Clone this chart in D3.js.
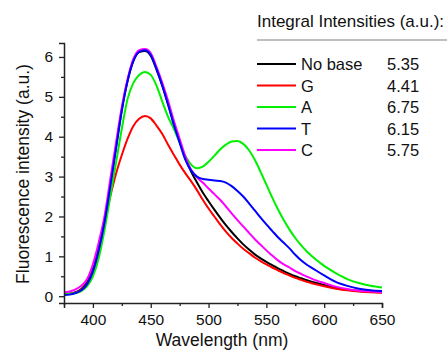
<!DOCTYPE html>
<html><head><meta charset="utf-8">
<script src="https://cdn.jsdelivr.net/npm/d3@7"></script>
<style>
body{margin:0;background:#fff;}
svg{display:block;font-family:"Liberation Sans",Arial,sans-serif;}
</style></head>
<body><div id="chart"></div>
<script>
const wavelengths = [375,380,385,390,395,400,405,410,415,420,425,430,435,440,445,450,455,460,465,470,475,480,485,490,495,500,505,510,515,520,525,530,535,540,545,550,555,560,565,570,575,580,585,590,600,610,620,630,640,650];
const noBase = [0.05,0.06,0.1,0.18,0.35,0.68,1.2,1.9,2.8,3.75,4.68,5.4,5.9,6.12,6.15,6.03,5.68,5.28,4.82,4.32,3.88,3.45,3.12,2.85,2.6,2.38,2.17,1.97,1.78,1.61,1.45,1.3,1.17,1.05,0.95,0.86,0.78,0.7,0.63,0.56,0.5,0.45,0.4,0.36,0.28,0.21,0.16,0.13,0.11,0.1];
const gSeries = [0.05,0.06,0.09,0.16,0.3,0.6,1.12,1.85,2.5,3.07,3.54,3.95,4.27,4.45,4.52,4.46,4.28,4.07,3.8,3.55,3.3,3.08,2.88,2.66,2.42,2.2,2.0,1.8,1.62,1.46,1.32,1.19,1.08,0.97,0.88,0.8,0.72,0.65,0.58,0.52,0.46,0.41,0.36,0.32,0.25,0.19,0.15,0.12,0.1,0.09];
const aSeries = [0.05,0.06,0.08,0.13,0.25,0.5,0.95,1.65,2.5,3.35,4.2,4.95,5.35,5.55,5.62,5.55,5.28,4.88,4.5,4.2,3.85,3.52,3.3,3.21,3.25,3.37,3.52,3.68,3.8,3.88,3.89,3.82,3.66,3.42,3.12,2.8,2.48,2.18,1.91,1.67,1.46,1.28,1.12,0.99,0.76,0.58,0.43,0.33,0.26,0.22];
const tSeries = [0.03,0.04,0.08,0.15,0.3,0.62,1.15,1.85,2.75,3.7,4.65,5.4,5.9,6.13,6.17,6.05,5.7,5.28,4.8,4.3,3.85,3.42,3.15,3.0,2.94,2.92,2.9,2.89,2.85,2.76,2.64,2.5,2.33,2.15,1.97,1.8,1.64,1.48,1.34,1.2,1.04,0.9,0.79,0.7,0.52,0.36,0.26,0.19,0.15,0.13];
const cSeries = [0.1,0.12,0.17,0.26,0.43,0.8,1.35,2.0,2.93,3.85,4.75,5.45,5.95,6.17,6.2,6.1,5.75,5.35,4.9,4.4,3.95,3.5,3.17,2.98,2.85,2.7,2.56,2.42,2.25,2.08,1.91,1.75,1.59,1.43,1.29,1.15,1.02,0.9,0.8,0.72,0.63,0.56,0.49,0.43,0.33,0.24,0.18,0.14,0.12,0.1];

const seriesNames = ["No base","G","A","T","C"];
const integrals = ["5.35","4.41","6.75","6.15","5.75"];
const colors = ["#000000","#ff0000","#00f000","#0000ff","#ff00ff"];
const xTicks = [400,450,500,550,600,650];
const xMinor = [375,425,475,525,575,625];
const yTicks = [0,1,2,3,4,5,6];
const yMinor = [0.5,1.5,2.5,3.5,4.5,5.5];
const legendTitle = "Integral Intensities (a.u.):";
const xTitle = "Wavelength (nm)";
const yTitle = "Fluorescence intensity (a.u.)";

const W = 447, H = 350;
const svg = d3.select("#chart").append("svg").attr("width",W).attr("height",H);
const x = d3.scaleLinear().domain([375,650]).range([64,382]);
const y = d3.scaleLinear().domain([-0.17,6.35]).range([303,43]);

const allSeries = [noBase,gSeries,aSeries,tSeries,cSeries];
const line = d3.line().x((d,i)=>x(wavelengths[i])).y(d=>y(d)).curve(d3.curveMonotoneX);
const drawOrder = [0,1,2,4,3];
drawOrder.forEach(k=>{
  svg.append("path").datum(allSeries[k]).attr("d",line)
    .attr("fill","none").attr("stroke",colors[k]).attr("stroke-width",2).attr("stroke-linejoin","round");
});

// axes
const axisColor = "#222";
const gx = svg.append("g").attr("transform","translate(0,303)")
  .call(d3.axisBottom(x).tickValues(xTicks).tickSize(5).tickPadding(6).tickFormat(d3.format("d")));
const gxm = svg.append("g").attr("transform","translate(0,303)")
  .call(d3.axisBottom(x).tickValues(xMinor).tickSize(3).tickFormat(""));
const gy = svg.append("g").attr("transform","translate(64,0)")
  .call(d3.axisLeft(y).tickValues(yTicks).tickSize(5).tickPadding(6).tickFormat(d3.format("d")));
const gym = svg.append("g").attr("transform","translate(64,0)")
  .call(d3.axisLeft(y).tickValues(yMinor).tickSize(3).tickFormat(""));
[gx,gxm,gy,gym].forEach(g=>{
  g.select(".domain").attr("stroke",axisColor).attr("stroke-width",1.5);
  g.selectAll(".tick line").attr("stroke",axisColor).attr("stroke-width",1.3);
  g.selectAll(".tick text").attr("fill","#111").style("font-size","15.5px").style("font-family","'Liberation Sans',Arial,sans-serif");
});
gxm.select(".domain").remove(); gym.select(".domain").remove();

svg.append("text").attr("x",222).attr("y",346).attr("text-anchor","middle")
  .style("font-size","17.5px").attr("fill","#111").text(xTitle);
svg.append("text").attr("transform","translate(28.5,174) rotate(-90)").attr("text-anchor","middle")
  .style("font-size","17.5px").attr("fill","#111").text(yTitle);

// legend
svg.append("text").attr("x",257).attr("y",27).style("font-size","17px").attr("fill","#111").text(legendTitle);
svg.append("line").attr("x1",257).attr("x2",447).attr("y1",40).attr("y2",40).attr("stroke","#aaa").attr("stroke-width",1.5);
const rowY = d3.scaleLinear().domain([0,4]).range([64,150]);
seriesNames.forEach((n,i)=>{
  const cy = rowY(i);
  svg.append("line").attr("x1",257).attr("x2",296).attr("y1",cy).attr("y2",cy).attr("stroke",colors[i]).attr("stroke-width",2);
  svg.append("text").attr("x",301).attr("y",cy+6).style("font-size","16.5px").attr("fill","#111").text(n);
  svg.append("text").attr("x",387).attr("y",cy+6).style("font-size","16.5px").attr("fill","#111").text(integrals[i]);
});
</script></body></html>
